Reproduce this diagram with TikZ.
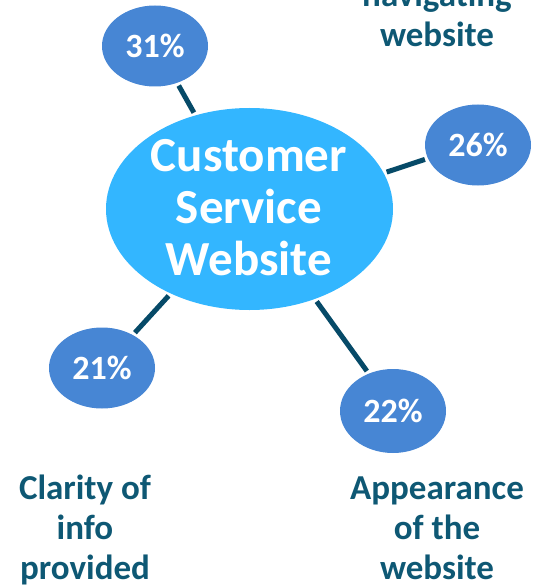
\documentclass[tikz,border=0pt]{standalone}
\usepackage{fontspec}
\setmainfont{Carlito}
\usepackage{tikz}
\usetikzlibrary{shapes}
\usepackage{xcolor}
\definecolor{hubblue}{RGB}{51,182,255}
\definecolor{pctblue}{RGB}{71,134,212}
\definecolor{labelteal}{RGB}{14,88,116}
\definecolor{linkteal}{RGB}{6,74,104}
\tikzstyle{link} = [line width=5pt, color=linkteal, shorten <=3pt, shorten >=3pt]
\tikzstyle{hub} = [ellipse, fill=hubblue, minimum width=287pt, minimum height=202pt, inner sep=0pt]
\tikzstyle{hubtext} = [align=center, text=white, font=\fontsize{49}{52}\selectfont\bfseries]
\tikzstyle{pct} = [ellipse, fill=pctblue, minimum width=106pt, minimum height=81pt, inner sep=0pt, text=white, font=\fontsize{34}{34}\selectfont\bfseries]
\tikzstyle{answer} = [align=center, text=labelteal, font=\fontsize{35}{40}\selectfont\bfseries]

\begin{document}
\begin{tikzpicture}[x=1pt, y=-1pt]
\useasboundingbox (0,0) rectangle (537,588);
% Central topic
\node[hub] (hub) at (249.5,209) {};
\node[hubtext] (title) at (249,207.5) {Customer\\Service\\Website};

% Percentages
\node[pct] (p31) at (155,46) {31\%};
\node[pct] (p26) at (478,145) {26\%};
\node[pct] (p21) at (102,368) {21\%};
\node[pct, minimum height=84pt] (p22) at (393,411) {22\%};

% Connections
\draw[link] (hub.120) -- (p31.-59);
\draw[link] (hub.15) -- (p26.195);
\draw[link] (hub.227) -- (p21.47);
\draw[link] (hub.-54) -- (p22.123);

% Answers
\node[answer, anchor=base] (a26) at (437,47) {navigating\\website};
\node[answer, anchor=base] (a21) at (85,579) {Clarity of\\info\\provided};
\node[answer, anchor=base] (a22) at (437,579) {Appearance\\of the\\website};
\end{tikzpicture}
\end{document}
